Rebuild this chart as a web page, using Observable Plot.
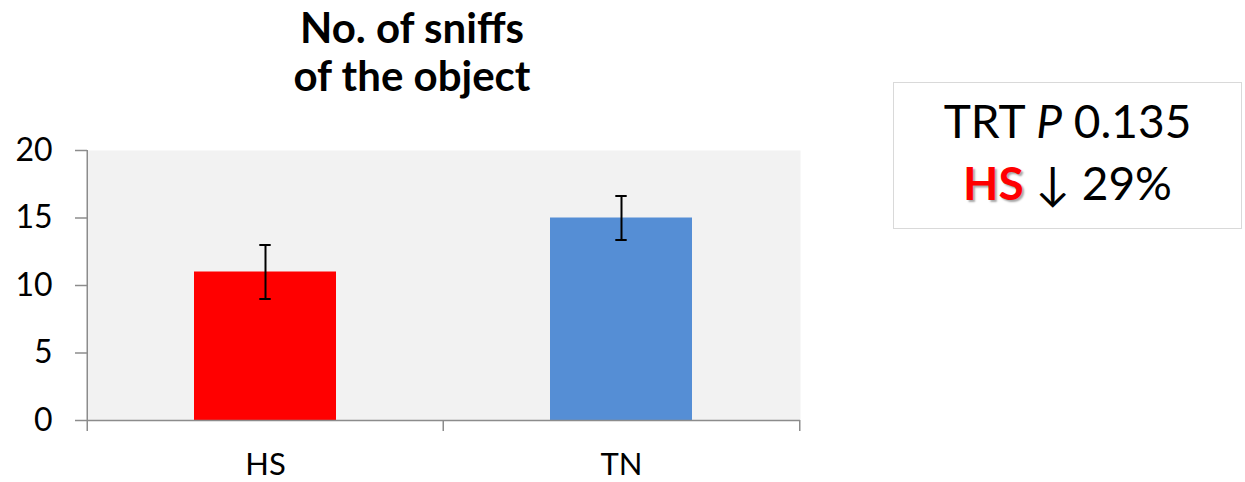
<!DOCTYPE html>
<html>
<head>
<meta charset="utf-8">
<script src="https://cdn.jsdelivr.net/npm/d3@7"></script>
<script src="https://cdn.jsdelivr.net/npm/@observablehq/plot@0.6"></script>
<style>
  html, body { margin: 0; padding: 0; background: #fff; }
  #wrap { position: relative; width: 1245px; height: 482px; font-family: Lato, "Open Sans", sans-serif; }
  #title { width: 824px; height: 105px; padding-top: 3px; box-sizing: border-box; text-align: center;
           font-weight: bold; font-size: 42px; line-height: 48px; color: #000; }
  #box { position: absolute; left: 893px; top: 82px; width: 349px; height: 147px; box-sizing: border-box;
         border: 1.5px solid #d9d9d9; text-align: center; font-size: 46px; line-height: 62px; padding-top: 7px; color: #000; }
  #box .hs { color: #ff0000; font-weight: bold; text-shadow: 2px 2px 2px rgba(0,0,0,0.35); }
  #chart svg { display: block; }
</style>
</head>
<body>
<div id="wrap">
  <div id="title">No. of sniffs<br>of the object</div>
  <div id="chart"></div>
  <div id="box"><div>TRT <i>P</i> 0.135</div><div><span class="hs">HS</span> ↓ 29%</div></div>
</div>
<script>
const categories = ["HS", "TN"];
const means = [11, 15];
const errors = [2, 1.63];
const barColors = ["#ff0000", "#558ed5"];
const yTicks = [0, 5, 10, 15, 20];

const data = categories.map((c, i) => ({cat: c, mean: means[i], err: errors[i]}));

const width = 820, height = 377;
const marginLeft = 87, marginRight = 20, marginTop = 45, marginBottom = 62;
const step = (width - marginLeft - marginRight) / categories.length;
const capInset = (step * 0.4 - 12) / 2;
const axisColor = "#8c8c8c";

const chart = Plot.plot({
  width, height, marginLeft, marginRight, marginTop, marginBottom,
  style: {fontFamily: "Lato, 'Open Sans', sans-serif", color: "#000", background: "#fff", overflow: "visible"},
  x: {domain: categories, paddingInner: 0.6, paddingOuter: 0.3, label: null},
  y: {domain: [0, 20], ticks: yTicks, label: null},
  color: {domain: categories, range: barColors},
  marks: [
    Plot.frame({fill: "#f2f2f2", stroke: null}),
    Plot.barY(data, {x: "cat", y: "mean", fill: "cat"}),
    Plot.ruleX(data, {x: "cat", y1: d => d.mean - d.err, y2: d => d.mean + d.err, stroke: "#000", strokeWidth: 2}),
    Plot.tickY(data, {x: "cat", y: d => d.mean + d.err, stroke: "#000", strokeWidth: 2, insetLeft: capInset, insetRight: capInset}),
    Plot.tickY(data, {x: "cat", y: d => d.mean - d.err, stroke: "#000", strokeWidth: 2, insetLeft: capInset, insetRight: capInset}),
    Plot.ruleY([0], {stroke: axisColor, strokeWidth: 1.5}),
    Plot.ruleX([categories[0]], {x: d => d, y1: 0, y2: 20, dx: -step / 2, stroke: axisColor, strokeWidth: 1.5}),
    Plot.ruleX(categories, {x: d => d, y1: 0, y2: 0, insetBottom: -11, dx: -step / 2, stroke: axisColor, strokeWidth: 1.5}),
    Plot.ruleX([categories[categories.length - 1]], {x: d => d, y1: 0, y2: 0, insetBottom: -11, dx: step / 2, stroke: axisColor, strokeWidth: 1.5}),
    Plot.axisY({ticks: yTicks, tickSize: 12, tickPadding: 23, fontSize: 32, stroke: axisColor, strokeWidth: 1.5, color: "#000"}),
    Plot.axisX({tickSize: 0, tickPadding: 32, fontSize: 31, color: "#000"})
  ]
});
document.getElementById("chart").appendChild(chart);
</script>
</body>
</html>
